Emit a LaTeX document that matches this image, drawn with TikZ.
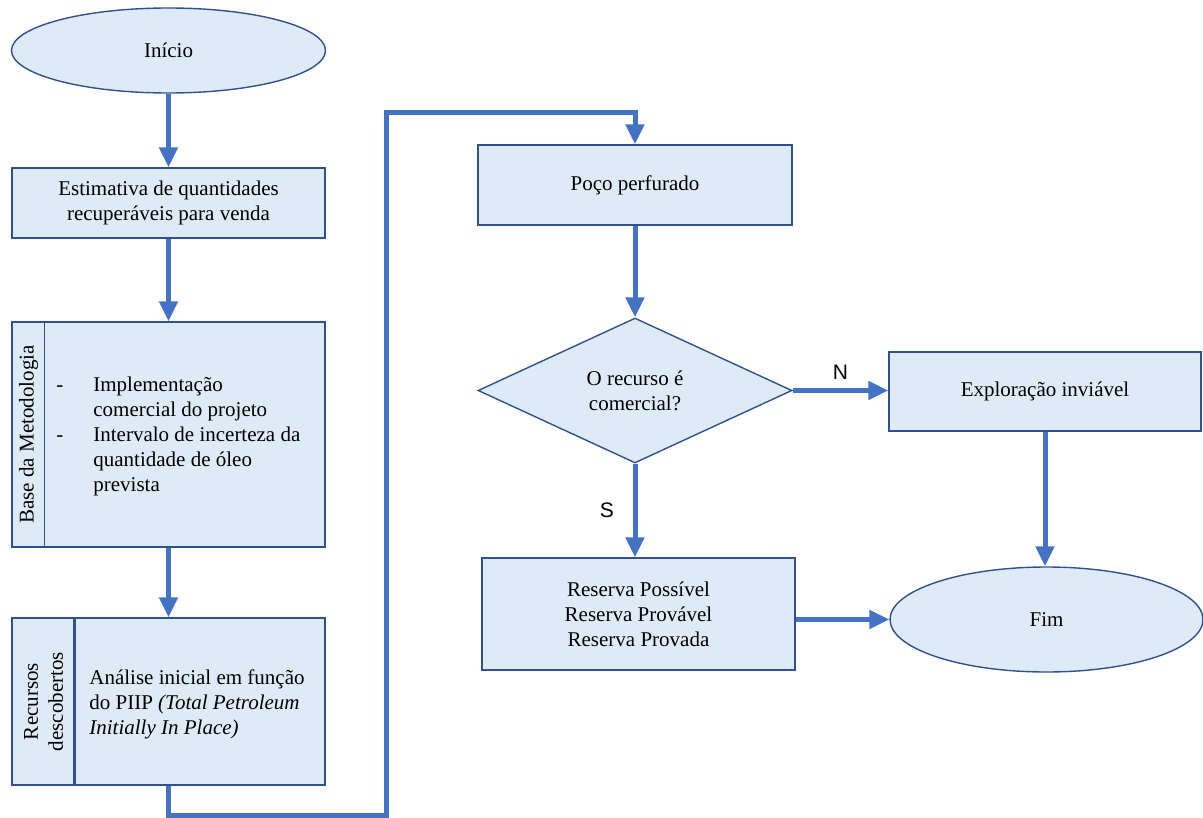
\documentclass[tikz,border=0pt]{standalone}
\usepackage{fontspec}
\setmainfont{Liberation Serif}
\newfontfamily\labelfont{Liberation Sans}
\usepackage{xcolor}
\usetikzlibrary{positioning,arrows.meta,shapes.geometric}
\definecolor{boxfill}{RGB}{222,235,247}
\definecolor{boxline}{RGB}{47,82,143}
\definecolor{flowblue}{RGB}{68,114,196}

\begin{document}
\begin{tikzpicture}[
  x=0.5pt, y=-0.5pt, font=\fontsize{10.5}{12.5}\selectfont,
  box/.style={draw=boxline, fill=boxfill, line width=0.7pt, align=center, inner sep=0pt, minimum width=156.5pt},
  term/.style={box, ellipse},
  choice/.style={box, diamond},
  flow/.style={draw=flowblue, line width=2.5pt, -{Triangle[length=10pt,width=9pt]}},
  divider/.style={draw=boxline, line width=0.8pt},
  yn/.style={font=\labelfont\fontsize{10.5}{12}\selectfont}]
  \useasboundingbox (0,0) rectangle (1203,818);
  % left column
  \node[term, minimum width=157pt, minimum height=42.5pt] (inicio) at (168.5,50.5) {Início};
  \node[box, minimum height=35pt] (estim) at (168.5,203) {Estimativa de quantidades\\recuperáveis para venda};
  \node[box, minimum height=112.5pt] (base) at (168.5,434.5) {};
  \node[box, minimum height=83.5pt] (recursos) at (168.5,701.5) {};
  \draw[divider] ([xshift=16.5pt]base.north west) -- ([xshift=16.5pt]base.south west);
  \draw[divider, line width=1.2pt] ([xshift=31.5pt]recursos.north west) -- ([xshift=31.5pt]recursos.south west);
  \node[rotate=90] (baselbl) at (28.5,434.5) {Base da Metodologia};
  \node[rotate=90, align=center] (reclbl) at (43.5,701.5) {Recursos\\descobertos};
  \node[anchor=west, inner sep=0pt] (basetxt) at (56,436) {\begin{tabular}{@{}p{18.5pt}@{}l@{}}
    - & Implementação\\
      & comercial do projeto\\
    - & Intervalo de incerteza da\\
      & quantidade de óleo\\
      & prevista
  \end{tabular}};
  \node[anchor=west, align=left, inner sep=0pt] (rectxt) at (89,704) {Análise inicial em função\\do PIIP \textit{(Total Petroleum}\\\textit{Initially In Place)}};
  % right part
  \node[box, minimum width=157pt, minimum height=40pt] (poco) at (635,185) {Poço perfurado};
  \node[choice, minimum width=157pt, minimum height=72.5pt] (decisao) at (635,390.5) {O recurso é\\comercial?};
  \node[box, minimum width=156pt, minimum height=39.5pt] (inviavel) at (1045,391.5) {Exploração inviável};
  \node[box, minimum height=56pt] (reserva) at (638.5,614) {Reserva Possível\\Reserva Provável\\Reserva Provada};
  \node[term, minimum width=156.5pt, minimum height=52.5pt] (fim) at (1046.5,619.5) {Fim};
  \coordinate (low) at (386,815);
  \coordinate (high) at (386,113);
  \draw[flow] (inicio.south) -- (inicio.south |- estim.north);
  \draw[flow] (estim) -- (base);
  \draw[flow] (base) -- (recursos);
  \draw[flow] (recursos.south) |- (low) -- (high) -| (poco.north);
  \draw[flow] (poco) -- (decisao);
  \draw[flow] (decisao.east) -- node[yn, above=1pt]{N} (decisao.east -| inviavel.west);
  \draw[flow] (decisao.south) -- node[yn, left=6pt]{S} (decisao.south |- reserva.north);
  \draw[flow] (inviavel.south) -- (inviavel.south |- fim.north);
  \draw[flow] (reserva.east |- fim) -- (fim.west);
\end{tikzpicture}
\end{document}
